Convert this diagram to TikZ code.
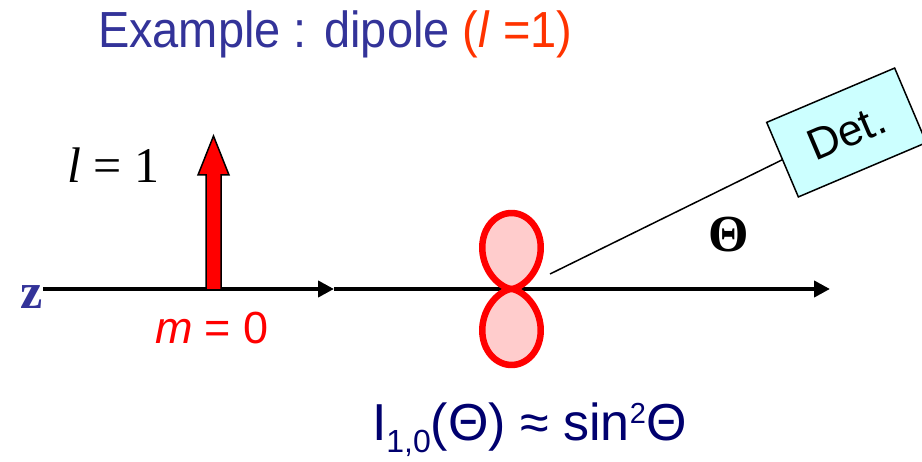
\documentclass[tikz,border=0pt]{standalone}
\usepackage{fontspec}
\setmainfont{Liberation Sans}
\newfontfamily\serifTNR{Liberation Serif}
\usepackage{tikz}
\usetikzlibrary{arrows.meta,positioning,calc}
\definecolor{TitleBlue}{RGB}{51,51,153}
\definecolor{TitleRed}{RGB}{255,51,0}
\definecolor{FormulaNavy}{RGB}{0,0,110}
\definecolor{LobeFill}{RGB}{255,204,204}
\definecolor{DetCyan}{RGB}{204,255,255}
\newcommand{\fsz}[1]{\fontsize{#1}{#1}\selectfont}

\begin{document}
\begin{tikzpicture}[
  x=1pt, y=-1pt,
  every node/.style={inner sep=0pt, outer sep=0pt},
  axis/.style={line width=4pt, -{Triangle[length=16pt, width=16pt]}},
  lobe/.style={draw=red, line width=6.5pt, fill=LobeFill, line join=round},
  detbox/.style={draw, line width=1.5pt, fill=DetCyan, minimum width=139pt, minimum height=81pt, rotate=23},
]
  \useasboundingbox (0,0) rectangle (922,462);

  % Title
  \node[anchor=base west, text=TitleBlue] (title) at (98,48)
    {\scalebox{1}[1.08]{\fsz{47pt}Example : dipole \textcolor{TitleRed}{(\textit{l} =1)}}};

  % z axis
  \coordinate (zstart) at (43,289);
  \coordinate (zmid) at (334,289);
  \coordinate (zend) at (830,289);
  \draw[axis] (zstart) -- (zmid);
  \draw[axis] (zmid) -- (zend);
  \node[anchor=base east, text=TitleBlue] (zlabel) at (43,309)
    {\fsz{50pt}\serifTNR\bfseries z};

  % l = 1 arrow
  \filldraw[fill=red, draw=black, line width=1.5pt, line join=miter]
    (206,289) -- (206,175) -- (198,175) -- (213.5,136) -- (229,175)
    -- (221,175) -- (221,289);
  \node[anchor=base west] (lval) at (67,183)
    {\fsz{50pt}\serifTNR\textit{l} = 1};
  \node[anchor=base west, text=red] (mval) at (155,344)
    {\fsz{45pt}\textit{m} = 0};

  % Dipole lobes
  \coordinate (lobec) at (511.5,289);
  \draw[lobe, shift={(lobec)}] plot[domain=0:180, samples=80, smooth]
    ({76*sin(\x)^2*cos(\x)}, {-76*sin(\x)^3}) -- cycle;
  \draw[lobe, shift={(lobec)}] plot[domain=0:180, samples=80, smooth]
    ({76*sin(\x)^2*cos(\x)}, {76*sin(\x)^3}) -- cycle;

  % Detector
  \node[detbox] (det) at (846.5,132.5) {\fsz{44pt}Det.};
  \coordinate (src) at (550,274);
  \draw[line width=1.5pt] (src) -- (det.west);
  \node (theta) at (728.5,235) {\fsz{52pt}\serifTNR\bfseries Θ};

  % Intensity
  \node[anchor=base west, text=FormulaNavy] (intens) at (372,441)
    {\fsz{52pt}I\raisebox{-12pt}{\fsz{32pt}1,0}(Θ) ≈ sin\raisebox{17pt}{\fsz{29pt}2}Θ};
\end{tikzpicture}
\end{document}
